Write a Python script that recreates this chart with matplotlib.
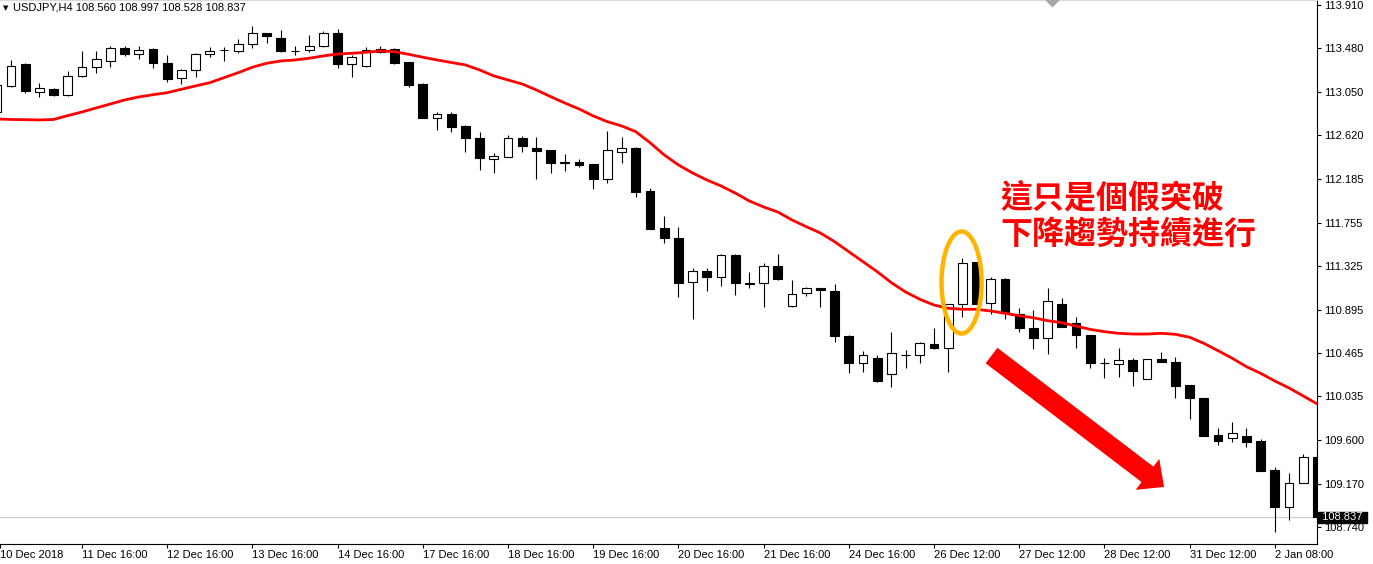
import numpy as np
import matplotlib
matplotlib.use('Agg')
import matplotlib.pyplot as plt
from matplotlib.patches import Ellipse
from matplotlib.transforms import blended_transform_factory

plt.rcParams['font.family'] = ['Liberation Sans', 'DejaVu Sans']

# USDJPY H4 bars; bar -1 is cut by the left edge, bar 92 by the price scale
bar_idx = np.arange(-1, 93)

opens = np.array([
    112.851, 113.109, 113.326, 113.049, 113.079, 113.020, 113.208, 113.297, 113.356, 113.485,
    113.425, 113.475, 113.336, 113.188, 113.267, 113.425, 113.462, 113.455, 113.524, 113.633,
    113.584, 113.455, 113.465, 113.505, 113.633, 113.326, 113.307, 113.445, 113.475, 113.346,
    113.128, 112.792, 112.831, 112.713, 112.594, 112.386, 112.406, 112.594, 112.495, 112.475,
    112.351, 112.356, 112.336, 112.188, 112.455, 112.495, 112.069, 111.703, 111.604, 111.168,
    111.277, 111.218, 111.436, 111.158, 111.158, 111.327, 110.931, 111.059, 111.109, 111.079,
    110.634, 110.366, 110.416, 110.257, 110.445, 110.445, 110.554, 110.515, 110.950, 111.366,
    110.960, 111.198, 110.851, 110.713, 110.614, 110.950, 110.762, 110.644, 110.366, 110.356,
    110.396, 110.208, 110.406, 110.376, 110.149, 110.020, 109.654, 109.624, 109.644, 109.594,
    109.307, 108.941, 109.178, 109.436])

highs = np.array([
    113.138, 113.366, 113.336, 113.138, 113.089, 113.257, 113.455, 113.455, 113.505, 113.505,
    113.505, 113.485, 113.415, 113.277, 113.435, 113.495, 113.495, 113.574, 113.703, 113.637,
    113.663, 113.505, 113.613, 113.653, 113.673, 113.415, 113.495, 113.505, 113.485, 113.350,
    113.138, 112.851, 112.851, 112.723, 112.653, 112.445, 112.624, 112.614, 112.604, 112.477,
    112.435, 112.386, 112.338, 112.663, 112.604, 112.505, 112.099, 111.822, 111.713, 111.307,
    111.307, 111.445, 111.445, 111.267, 111.356, 111.445, 111.188, 111.119, 111.111, 111.148,
    110.644, 110.485, 110.445, 110.673, 110.495, 110.574, 110.713, 110.952, 111.406, 111.368,
    111.218, 111.208, 110.911, 110.891, 111.109, 111.010, 110.822, 110.646, 110.416, 110.515,
    110.416, 110.408, 110.475, 110.426, 110.151, 110.022, 109.723, 109.782, 109.723, 109.614,
    109.337, 109.277, 109.465, 109.455])

lows = np.array([
    112.831, 113.099, 113.039, 113.000, 113.010, 113.010, 113.198, 113.237, 113.297, 113.406,
    113.376, 113.287, 113.148, 113.128, 113.198, 113.396, 113.356, 113.435, 113.485, 113.534,
    113.445, 113.415, 113.445, 113.495, 113.287, 113.198, 113.297, 113.435, 113.326, 113.099,
    112.788, 112.673, 112.653, 112.455, 112.277, 112.247, 112.404, 112.455, 112.188, 112.247,
    112.267, 112.307, 112.089, 112.148, 112.346, 112.010, 111.690, 111.554, 111.020, 110.802,
    111.079, 111.129, 111.040, 111.109, 110.921, 111.188, 110.921, 111.030, 110.921, 110.574,
    110.267, 110.277, 110.178, 110.129, 110.317, 110.366, 110.505, 110.277, 110.822, 110.948,
    110.851, 110.802, 110.673, 110.505, 110.455, 110.721, 110.515, 110.317, 110.218, 110.228,
    110.139, 110.206, 110.374, 110.020, 109.812, 109.642, 109.554, 109.584, 109.535, 109.295,
    108.693, 108.812, 109.176, 108.831])

closes = np.array([
    113.119, 113.307, 113.059, 113.089, 113.020, 113.208, 113.297, 113.376, 113.485, 113.425,
    113.465, 113.336, 113.178, 113.267, 113.425, 113.455, 113.460, 113.524, 113.633, 113.604,
    113.455, 113.452, 113.505, 113.633, 113.326, 113.396, 113.465, 113.475, 113.336, 113.119,
    112.792, 112.831, 112.703, 112.594, 112.396, 112.416, 112.594, 112.515, 112.465, 112.346,
    112.346, 112.327, 112.188, 112.475, 112.495, 112.059, 111.693, 111.604, 111.158, 111.277,
    111.218, 111.436, 111.158, 111.153, 111.327, 111.198, 111.049, 111.109, 111.089, 110.634,
    110.366, 110.445, 110.188, 110.465, 110.442, 110.564, 110.515, 110.950, 111.356, 110.950,
    111.198, 110.861, 110.713, 110.614, 110.980, 110.723, 110.644, 110.366, 110.363, 110.396,
    110.287, 110.406, 110.376, 110.139, 110.020, 109.644, 109.594, 109.673, 109.584, 109.297,
    108.941, 109.178, 109.436, 108.837])

# moving average (red line), one value per bar
ma_values = np.array([
    112.782, 112.777, 112.775, 112.772, 112.777, 112.815, 112.851, 112.891, 112.930, 112.970,
    113.000, 113.022, 113.042, 113.076, 113.109, 113.141, 113.191, 113.240, 113.294, 113.333,
    113.356, 113.366, 113.383, 113.406, 113.425, 113.432, 113.442, 113.455, 113.448, 113.422,
    113.393, 113.366, 113.341, 113.317, 113.267, 113.208, 113.168, 113.128, 113.069, 113.003,
    112.940, 112.881, 112.812, 112.755, 112.713, 112.656, 112.547, 112.426, 112.327, 112.247,
    112.178, 112.119, 112.049, 111.970, 111.911, 111.861, 111.782, 111.716, 111.653, 111.567,
    111.468, 111.369, 111.270, 111.161, 111.069, 110.997, 110.940, 110.908, 110.898, 110.898,
    110.881, 110.858, 110.834, 110.814, 110.785, 110.765, 110.732, 110.699, 110.676, 110.660,
    110.653, 110.653, 110.660, 110.650, 110.621, 110.561, 110.488, 110.413, 110.330, 110.264,
    110.188, 110.119, 110.040, 109.960])

price_ticks = [113.910, 113.480, 113.050, 112.620, 112.185, 111.755, 111.325,
               110.895, 110.465, 110.035, 109.600, 109.170, 108.740]
time_tick_bars = [5, 11, 17, 23, 29, 35, 41, 47, 53, 59, 65, 71, 77, 83, 89]
time_tick_labels = ['11 Dec 16:00', '12 Dec 16:00', '13 Dec 16:00', '14 Dec 16:00',
                    '17 Dec 16:00', '18 Dec 16:00', '19 Dec 16:00', '20 Dec 16:00',
                    '21 Dec 16:00', '24 Dec 16:00', '26 Dec 12:00', '27 Dec 12:00',
                    '28 Dec 12:00', '31 Dec 12:00', '2 Jan 08:00']
first_label = '10 Dec 2018'
last_price = 108.837
header = 'USDJPY,H4 108.560 108.997 108.528 108.837'
note_lines = ['這只是個假突破', '下降趨勢持續進行']

W, H = 1373, 564
fig = plt.figure(figsize=(W / 100, H / 100), dpi=100)
ax = fig.add_axes([0, 20 / H, 1317 / W, 544 / H])
x_left, x_right = -0.775, 91.97
ax.set_xlim(x_left, x_right)
ax.set_ylim(108.5745, 113.9595)

# candles
ax.vlines(bar_idx, lows, highs, color='black', lw=0.8, zorder=2)
bull = closes >= opens
body_lo = np.minimum(opens, closes)
body_h = np.maximum(np.abs(closes - opens), 0.003)
ax.bar(bar_idx, body_h, width=0.62, bottom=body_lo,
       color=np.where(bull, 'white', 'black'), edgecolor='black', lw=0.8, zorder=3)

ax.plot(bar_idx, ma_values, color='#FF0000', lw=2.0, zorder=4, solid_capstyle='butt')

# current price line and box
ax.axhline(last_price, color='#C8C8C8', lw=0.8, zorder=1)
trans = blended_transform_factory(ax.transAxes, ax.transData)
ax.annotate(f' {last_price:.3f} ', xy=(1, last_price), xycoords=trans,
            xytext=(1.6, 0), textcoords='offset points', ha='left', va='center',
            color='white', fontsize=8, annotation_clip=False, zorder=10,
            bbox=dict(boxstyle='square,pad=0.08', fc='black', ec='black'))

# axes look (MT4 style)
ax.spines['left'].set_visible(False)
ax.spines['top'].set_color('#D9D9D9')
for s in ('right', 'bottom'):
    ax.spines[s].set_color('black')
    ax.spines[s].set_linewidth(0.8)

ax.yaxis.tick_right()
ax.set_yticks(price_ticks)
ax.set_yticklabels([f'{p:.3f}' for p in price_ticks])
ax.set_xticks([x_left] + time_tick_bars)
ax.set_xticklabels([first_label] + time_tick_labels)
for lab in ax.get_xticklabels():
    lab.set_ha('left')
ax.tick_params(axis='both', direction='out', length=3, width=0.8, labelsize=8, colors='black')
ax.tick_params(axis='x', pad=1.5)
ax.tick_params(axis='y', pad=1.8)

# header and chart-shift marker
fig.text(3 / W, 1 - 8 / H, '▼', fontsize=5, family='DejaVu Sans', va='center', ha='left')
fig.text(13 / W, 1 - 8 / H, header, fontsize=8, va='center', ha='left')
ax.plot([1052 / 1317], [1.0], marker='D', ms=7, color='#A8A8A8', mec='none',
        transform=ax.transAxes, clip_on=False, zorder=5)

# annotations
ax.add_patch(Ellipse((66.94, 111.163), 2.82, 1.01, fill=False, ec='#FFB400', lw=3.2, zorder=6))
ax.annotate('', xy=(81.2, 109.139), xytext=(69.05, 110.440),
            arrowprops=dict(arrowstyle='simple,head_length=1.5,head_width=2.8,tail_width=1.4',
                            mutation_scale=10, color='#FF0000', lw=0, shrinkA=0, shrinkB=0),
            zorder=6)
for line, base_y in zip(note_lines, (207, 244)):
    fig.text(1000 / W, 1 - base_y / H, line, fontsize=23, color='#FF0000', fontweight='bold',
             family=['Noto Sans CJK TC', 'DejaVu Sans'], va='baseline', ha='left')

fig.savefig('out.png', dpi=100, facecolor='white')
